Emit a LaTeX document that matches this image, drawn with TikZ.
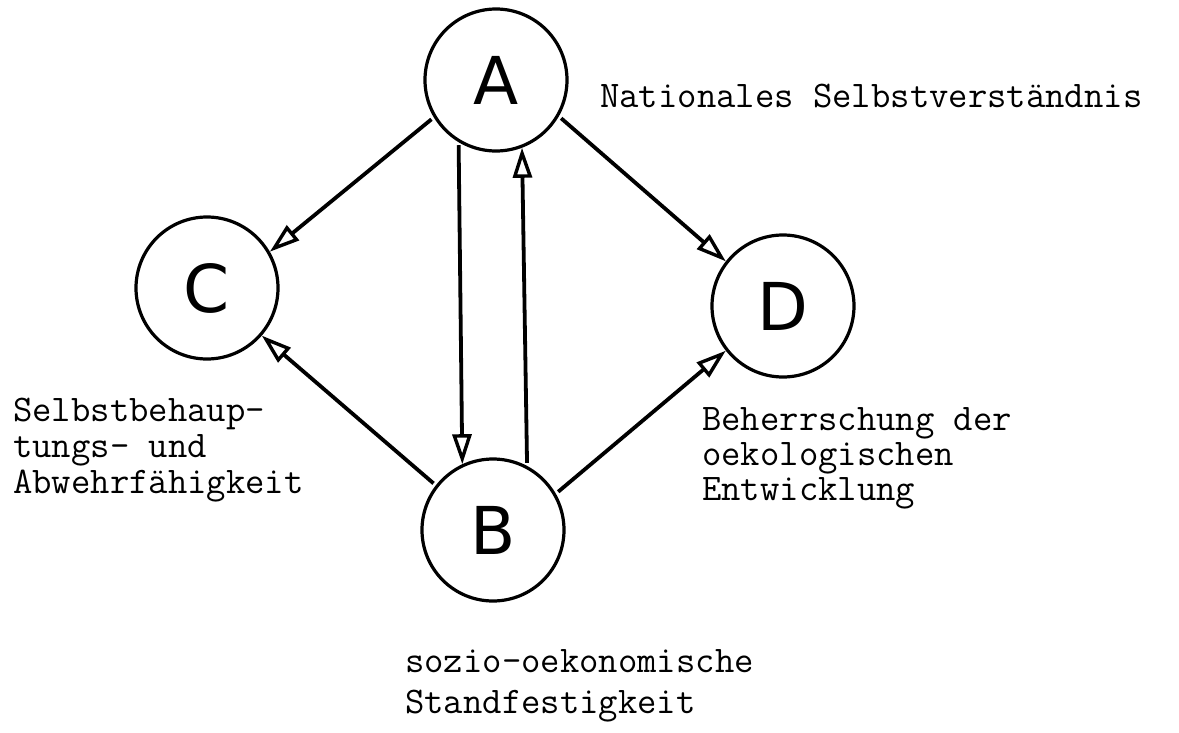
\documentclass[tikz,border=0pt]{standalone}
\usepackage{fontspec}
\newfontfamily\letterfont{DejaVu Sans}
\usetikzlibrary{arrows.meta}
\begin{document}
\begin{tikzpicture}[x=1pt,y=-1pt,
  circ/.style={circle, draw, line width=3.2pt, minimum size=142pt, inner sep=0pt,
    font=\letterfont\fontsize{66}{70}\selectfont},
  conn/.style={line width=3.8pt,
    -{Triangle[open, length=30pt, width=19pt, line width=3.4pt]},
    shorten <=3pt},
  lab/.style={anchor=base west, inner sep=0pt, text height=22pt, text depth=6pt,
    font=\ttfamily\fontsize{37.6}{40}\selectfont}]
\useasboundingbox (0,0) rectangle (1179,732);

% the four factors
\node[circ] (A) at (496,80)  {A};
\node[circ] (B) at (493,530) {B};
\node[circ] (C) at (207,288) {C};
\node[circ] (D) at (783,306) {D};

% influences between them
\draw[conn] (A.-149) -- (C.30);
\draw[conn] (A.239)  -- (B.115);
\draw[conn] (B.62)   -- (A.-69);
\draw[conn] (A.-30)  -- (D.142);
\draw[conn] (B.142.5) -- (C.-41.7);
\draw[conn] (B.30)   -- (D.-142);

% captions
\node[lab] (labA)  at (600,107) {Nationales Selbstverständnis};
\node[lab] (labC1) at (13,421)  {Selbstbehaup-};
\node[lab] (labC2) at (13,457)  {tungs- und};
\node[lab] (labC3) at (13,493)  {Abwehrfähigkeit};
\node[lab] (labD1) at (702,430) {Beherrschung der};
\node[lab] (labD2) at (702,465) {oekologischen};
\node[lab] (labD3) at (702,500) {Entwicklung};
\node[lab] (labB1) at (405,672) {sozio-oekonomische};
\node[lab] (labB2) at (405,713) {Standfestigkeit};
\end{tikzpicture}
\end{document}
